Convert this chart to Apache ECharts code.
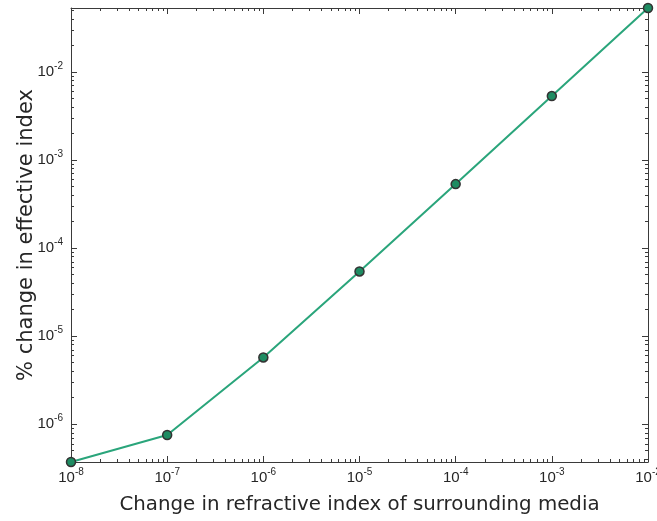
<!DOCTYPE html>
<html>
<head>
<meta charset="utf-8">
<script src="https://cdn.jsdelivr.net/npm/echarts@6/dist/echarts.min.js"></script>
<style>
  html, body { margin: 0; padding: 0; background: #ffffff; }
  #chart { width: 657px; height: 521px; }
</style>
</head>
<body>
<div id="chart"></div>
<script>
// Change in surrounding refractive index vs. % change in effective index
var deltaRefractive = [1e-8, 1e-7, 1e-6, 1e-5, 1e-4, 1e-3, 1e-2];
var deltaEffective = [3.7e-7, 7.5e-7, 5.7e-6, 5.4e-5, 5.3e-4, 5.3e-3, 5.3e-2];
var xDecades = [-8, -7, -6, -5, -4, -3, -2];
var yDecades = [-6, -5, -4, -3, -2];

var FONT = '"Liberation Sans", Arial, sans-serif';
var TITLE_FONT = '"DejaVu Sans", "Liberation Sans", sans-serif';
var AXIS_COLOR = '#3a3a3a';
var TEXT_COLOR = '#262626';

var lg = Math.log10;
var xMin = lg(deltaRefractive[0]);
var xMax = lg(deltaRefractive[deltaRefractive.length - 1]);
var yMin = lg(deltaEffective[0]);
var yMax = lg(deltaEffective[deltaEffective.length - 1]);

var points = deltaRefractive.map(function (x, i) {
  return [lg(x), lg(deltaEffective[i])];
});

// minor log ticks at 2..9 x 10^n
function minorTicks(decades, lo, hi) {
  var out = [];
  for (var d = decades[0] - 1; d <= decades[decades.length - 1]; d++) {
    for (var k = 2; k <= 9; k++) {
      var v = lg(k) + d;
      if (v > lo + 1e-9 && v < hi - 1e-9) out.push(v);
    }
  }
  return out;
}
var xMinor = minorTicks(xDecades, xMin, xMax);
var yMinor = minorTicks(yDecades, yMin, yMax);

function powLabel(v) {
  var r = Math.round(v);
  if (Math.abs(v - r) > 1e-6) return '';
  return '{b|10}{s|' + r + '}';
}
var labelRich = {
  b: { fontFamily: FONT, fontSize: 15, color: TEXT_COLOR },
  s: { fontFamily: FONT, fontSize: 10, color: TEXT_COLOR, padding: [0, 0, 11, 0] }
};

function makeAxis(base, opts) {
  return Object.assign({
    type: 'value',
    minInterval: 1,
    maxInterval: 1,
    axisLine: { show: true, onZero: false, lineStyle: { color: AXIS_COLOR, width: 1 } },
    axisTick: { show: true, inside: true, length: 6, lineStyle: { color: AXIS_COLOR } },
    splitLine: { show: false },
    axisLabel: { show: false }
  }, base, opts);
}

var option = {
  backgroundColor: '#ffffff',
  animation: false,
  grid: { left: 71, right: 9, top: 8, bottom: 59, containLabel: false, outerBoundsMode: 'none' },
  xAxis: [
    makeAxis({ min: xMin, max: xMax }, {
      position: 'bottom',
      name: 'Change in refractive index of surrounding media',
      nameLocation: 'middle',
      nameGap: 33,
      nameMoveOverlap: false,
      nameTextStyle: { fontFamily: TITLE_FONT, fontSize: 19.8, color: TEXT_COLOR },
      axisLabel: { show: true, margin: 5, formatter: powLabel, rich: labelRich, showMinLabel: true, showMaxLabel: true, hideOverlap: false }
    }),
    makeAxis({ min: xMin, max: xMax }, { position: 'top' })
  ],
  yAxis: [
    makeAxis({ min: yMin, max: yMax }, {
      position: 'left',
      name: '% change in effective index',
      nameLocation: 'middle',
      nameGap: 34,
      nameMoveOverlap: false,
      nameTextStyle: { fontFamily: TITLE_FONT, fontSize: 21, color: TEXT_COLOR },
      axisLabel: { show: true, margin: 8, formatter: powLabel, rich: labelRich, hideOverlap: false }
    }),
    makeAxis({ min: yMin, max: yMax }, { position: 'right' })
  ],
  series: [
    {
      // minor tick marks on all four sides of the box
      type: 'custom',
      silent: true,
      xAxisIndex: 0,
      yAxisIndex: 0,
      data: [[xMin, yMin]],
      clip: false,
      renderItem: function (params, api) {
        var cs = params.coordSys;
        var L = 3;
        var children = [];
        var style = { stroke: AXIS_COLOR, lineWidth: 1 };
        xMinor.forEach(function (v) {
          var px = Math.round(api.coord([v, yMin])[0]) + 0.5;
          children.push({ type: 'line', shape: { x1: px, y1: cs.y + cs.height, x2: px, y2: cs.y + cs.height - L }, style: style });
          children.push({ type: 'line', shape: { x1: px, y1: cs.y, x2: px, y2: cs.y + L }, style: style });
        });
        yMinor.forEach(function (v) {
          var py = Math.round(api.coord([xMin, v])[1]) + 0.5;
          children.push({ type: 'line', shape: { x1: cs.x, y1: py, x2: cs.x + L, y2: py }, style: style });
          children.push({ type: 'line', shape: { x1: cs.x + cs.width, y1: py, x2: cs.x + cs.width - L, y2: py }, style: style });
        });
        return { type: 'group', children: children };
      }
    },
    {
      type: 'line',
      xAxisIndex: 0,
      yAxisIndex: 0,
      data: points,
      clip: false,
      symbol: 'circle',
      symbolSize: 9,
      lineStyle: { color: '#2aa57b', width: 2 },
      itemStyle: { color: '#1e8c62', borderColor: '#333333', borderWidth: 1.5 },
      z: 5
    }
  ]
};

var chart = echarts.init(document.getElementById('chart'), null, { renderer: 'canvas' });
chart.setOption(option);
</script>
</body>
</html>
